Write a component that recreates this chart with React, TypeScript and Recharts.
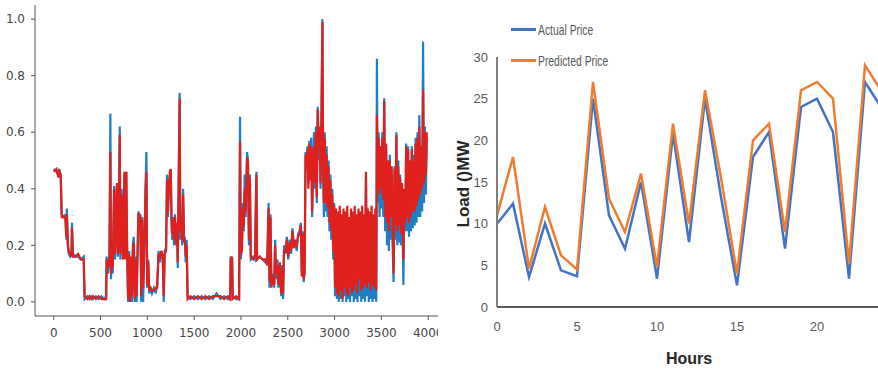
import React from "react";
import { LineChart, Line, XAxis, YAxis } from "recharts";

// left panel: normalised load over time steps (actual vs predicted)
const stepIndex = [
  0, 30, 50, 60, 75, 85, 110, 125, 135, 140, 150, 160, 175, 190, 195, 205, 230, 260, 290, 320, 330,
  360, 380, 400, 420, 450, 480, 510, 540, 560,
  565, 580, 595, 605, 612, 620, 630, 645, 655, 665, 675, 685, 695, 705, 712, 725, 740, 755, 765, 775,
  785, 795, 805, 815, 825, 835, 845, 855, 865, 875, 885, 895, 905, 915, 925, 935, 945, 955, 965, 980,
  990, 998, 1010, 1020, 1035, 1050, 1070, 1090, 1105,
  1120, 1135, 1150, 1165, 1175, 1185, 1200, 1210, 1220, 1230, 1240, 1250, 1258, 1265, 1275, 1285,
  1295, 1305, 1315, 1325, 1335, 1345, 1352, 1362, 1372, 1382, 1392, 1400, 1410, 1420, 1430,
  1460, 1500, 1540, 1580, 1620, 1660, 1700, 1740, 1780, 1820, 1860, 1885, 1890, 1905, 1912, 1950,
  1980, 1990, 1998, 2010, 2020, 2030, 2040, 2050, 2065, 2075, 2085, 2095, 2105, 2130, 2150, 2165,
  2172, 2200, 2230, 2260, 2280, 2295, 2305, 2315, 2325, 2340, 2355, 2365, 2375, 2390, 2400, 2415,
  2430, 2440, 2450, 2460, 2475, 2490, 2505, 2520, 2535, 2550, 2565, 2580, 2595, 2610, 2625, 2640,
  2650, 2660, 2670, 2680, 2690, 2700, 2710, 2720, 2730, 2740, 2750, 2760, 2770, 2780, 2790, 2800,
  2810, 2820, 2830, 2840, 2850, 2860, 2870, 2878, 2886, 2895, 2905, 2915, 2925, 2935, 2945, 2955,
  2965, 2975, 2985, 2995,
  3005, 3015, 3025, 3035, 3045, 3055, 3065, 3075, 3085, 3095, 3105, 3115, 3125, 3135, 3145, 3155,
  3165, 3175, 3185, 3195, 3205, 3215, 3225, 3235, 3245, 3255, 3265, 3275, 3285, 3295, 3305, 3315,
  3325, 3335, 3345, 3355, 3365, 3375, 3385, 3395, 3405, 3415, 3425, 3435, 3445,
  3452, 3460, 3470, 3480, 3490, 3500, 3510, 3520, 3530, 3540, 3550, 3560, 3570, 3580, 3590, 3600,
  3610, 3620, 3630, 3640, 3650, 3660, 3670, 3680, 3690, 3700, 3710, 3720, 3735, 3745, 3755, 3765,
  3775, 3785, 3795, 3805, 3815, 3825, 3835, 3845, 3855, 3865, 3875, 3885, 3895, 3905, 3915, 3925,
  3935, 3945, 3955, 3965, 3975, 3985,
];

const actualNorm = [
  0.47, 0.46, 0.45, 0.47, 0.44, 0.31, 0.3, 0.31, 0.22, 0.33, 0.2, 0.17, 0.16, 0.17, 0.28, 0.17, 0.16, 0.16, 0.15, 0.16, 0.01,
  0.02, 0.01, 0.02, 0.01, 0.02, 0.01, 0.02, 0.01, 0.02,
  0.16, 0.1, 0.15, 0.665, 0.08, 0.2, 0.1, 0.41, 0.15, 0.3, 0.41, 0.16, 0.3, 0.62, 0.15, 0.4, 0.16, 0.45, 0.16, 0.46,
  0.15, 0.0, 0.18, 0.0, 0.15, 0.0, 0.2, 0.23, 0.0, 0.16, 0.0, 0.17, 0.32, 0.3, 0.31, 0.0, 0.3, 0.0, 0.15, 0.4,
  0.53, 0.05, 0.15, 0.03, 0.05, 0.03, 0.05, 0.03, 0.06,
  0.18, 0.14, 0.18, 0.15, 0.0, 0.18, 0.19, 0.45, 0.3, 0.42, 0.44, 0.47, 0.28, 0.22, 0.3, 0.2,
  0.31, 0.22, 0.27, 0.12, 0.45, 0.74, 0.22, 0.3, 0.2, 0.4, 0.22, 0.23, 0.14, 0.22, 0.02,
  0.01, 0.02, 0.01, 0.02, 0.01, 0.02, 0.01, 0.03, 0.01, 0.02, 0.01, 0.01, 0.16, 0.15, 0.02, 0.01,
  0.01, 0.655, 0.15, 0.2, 0.35, 0.25, 0.45, 0.3, 0.53, 0.5, 0.2, 0.45, 0.15, 0.16, 0.15, 0.46,
  0.15, 0.16, 0.15, 0.14, 0.14, 0.35, 0.05, 0.31, 0.06, 0.1, 0.05, 0.22, 0.08, 0.15, 0.05, 0.12,
  0.02, 0.13, 0.01, 0.2, 0.17, 0.23, 0.15, 0.22, 0.17, 0.26, 0.2, 0.22, 0.18, 0.24, 0.25, 0.28,
  0.1, 0.25, 0.07, 0.12, 0.53, 0.48, 0.55, 0.42, 0.57, 0.45, 0.58, 0.3, 0.48, 0.6, 0.4, 0.62,
  0.35, 0.69, 0.5, 0.6, 0.4, 0.68, 1.0, 0.45, 0.3, 0.6, 0.32, 0.55, 0.3, 0.5, 0.25, 0.45,
  0.22, 0.4, 0.15, 0.35,
  0.02, 0.3, 0.01, 0.29, 0.0, 0.31, 0.01, 0.28, 0.0, 0.3, 0.02, 0.29, 0.0, 0.31, 0.01, 0.27,
  0.0, 0.3, 0.02, 0.29, 0.0, 0.31, 0.01, 0.28, 0.0, 0.3, 0.02, 0.29, 0.0, 0.31, 0.01, 0.28,
  0.0, 0.44, 0.02, 0.3, 0.0, 0.29, 0.01, 0.31, 0.0, 0.28, 0.01, 0.3, 0.0,
  0.86, 0.35, 0.6, 0.3, 0.55, 0.33, 0.6, 0.3, 0.72, 0.25, 0.55, 0.2, 0.5, 0.18, 0.52, 0.22,
  0.45, 0.2, 0.07, 0.48, 0.22, 0.6, 0.2, 0.5, 0.21, 0.45, 0.2, 0.4, 0.06, 0.38, 0.25, 0.56,
  0.25, 0.55, 0.23, 0.5, 0.25, 0.55, 0.26, 0.52, 0.27, 0.58, 0.28, 0.6, 0.3, 0.66, 0.3, 0.55,
  0.32, 0.92, 0.35, 0.62, 0.38, 0.58,
];

const predictedNorm = [
  0.46, 0.47, 0.44, 0.46, 0.45, 0.3, 0.3, 0.29, 0.23, 0.31, 0.21, 0.18, 0.17, 0.16, 0.26, 0.16, 0.16, 0.17, 0.15, 0.15, 0.02,
  0.01, 0.02, 0.01, 0.02, 0.01, 0.02, 0.01, 0.01, 0.01,
  0.15, 0.12, 0.16, 0.53, 0.1, 0.18, 0.12, 0.4, 0.17, 0.3, 0.42, 0.17, 0.28, 0.59, 0.17, 0.38, 0.15, 0.46, 0.15, 0.46,
  0.16, 0.01, 0.17, 0.0, 0.16, 0.02, 0.18, 0.21, 0.01, 0.15, 0.02, 0.16, 0.31, 0.31, 0.3, 0.02, 0.29, 0.05, 0.14, 0.38,
  0.46, 0.06, 0.14, 0.04, 0.05, 0.04, 0.04, 0.05, 0.05,
  0.17, 0.16, 0.18, 0.16, 0.02, 0.17, 0.18, 0.43, 0.32, 0.4, 0.46, 0.47, 0.3, 0.24, 0.29, 0.22,
  0.3, 0.2, 0.28, 0.14, 0.42, 0.72, 0.25, 0.28, 0.22, 0.38, 0.21, 0.22, 0.16, 0.2, 0.01,
  0.02, 0.01, 0.02, 0.01, 0.02, 0.01, 0.02, 0.02, 0.02, 0.01, 0.02, 0.01, 0.15, 0.16, 0.01, 0.02,
  0.01, 0.565, 0.17, 0.18, 0.33, 0.27, 0.4, 0.32, 0.51, 0.49, 0.22, 0.44, 0.16, 0.15, 0.16, 0.45,
  0.15, 0.16, 0.15, 0.15, 0.13, 0.33, 0.07, 0.3, 0.05, 0.09, 0.06, 0.2, 0.1, 0.13, 0.06, 0.14,
  0.03, 0.12, 0.03, 0.18, 0.18, 0.22, 0.16, 0.21, 0.18, 0.25, 0.19, 0.21, 0.2, 0.23, 0.24, 0.27,
  0.09, 0.24, 0.08, 0.1, 0.52, 0.47, 0.54, 0.4, 0.56, 0.43, 0.55, 0.32, 0.46, 0.55, 0.42, 0.6,
  0.37, 0.68, 0.55, 0.62, 0.42, 0.65, 0.99, 0.48, 0.35, 0.58, 0.35, 0.52, 0.33, 0.48, 0.28, 0.43,
  0.25, 0.38, 0.18, 0.34,
  0.05, 0.33, 0.03, 0.32, 0.02, 0.34, 0.04, 0.31, 0.01, 0.33, 0.05, 0.32, 0.03, 0.34, 0.02, 0.3,
  0.05, 0.33, 0.03, 0.32, 0.04, 0.34, 0.06, 0.31, 0.03, 0.33, 0.08, 0.32, 0.04, 0.34, 0.05, 0.31,
  0.06, 0.46, 0.05, 0.33, 0.07, 0.32, 0.04, 0.34, 0.06, 0.31, 0.05, 0.33, 0.04,
  0.66, 0.4, 0.58, 0.38, 0.55, 0.4, 0.58, 0.36, 0.71, 0.3, 0.56, 0.28, 0.5, 0.25, 0.5, 0.3,
  0.48, 0.26, 0.1, 0.47, 0.27, 0.59, 0.25, 0.48, 0.27, 0.44, 0.24, 0.42, 0.15, 0.4, 0.28, 0.55,
  0.3, 0.54, 0.28, 0.5, 0.3, 0.54, 0.32, 0.5, 0.32, 0.56, 0.34, 0.58, 0.36, 0.62, 0.38, 0.55,
  0.4, 0.75, 0.42, 0.6, 0.45, 0.6,
];

const normTicks = [0, 0.2, 0.4, 0.6, 0.8, 1.0];
const stepTicks = [0, 500, 1000, 1500, 2000, 2500, 3000, 3500, 4000];

// right panel: hourly price
const hours = [0, 1, 2, 3, 4, 5, 6, 7, 8, 9, 10, 11, 12, 13, 14, 15, 16, 17, 18, 19, 20, 21, 22, 23, 24];
const actualPrice = [10, 12.4, 3.6, 10, 4.4, 3.7, 25, 11, 7, 15, 3.4, 20.8, 7.8, 25, 13.2, 2.6, 18, 21, 7, 24, 25, 21, 3.4, 27, 24];
const predictedPrice = [11, 18, 4.6, 12, 6.2, 4.5, 27, 13, 9, 16, 4.8, 22, 10, 26, 15.5, 4, 20, 22, 9, 26, 27, 25, 5.2, 29, 26];
const hourTicks = [0, 5, 10, 15, 20];
const loadTicks = [0, 5, 10, 15, 20, 25, 30];

const priceSeries = [
  { key: "actual", name: "Actual Price", color: "#4472c4" },
  { key: "predicted", name: "Predicted Price", color: "#ed7d31" },
];

const leftData = stepIndex.map((t, i) => ({
  t,
  actual: actualNorm[i],
  predicted: predictedNorm[i],
}));

const rightData = hours.map((h, i) => ({
  h,
  actual: actualPrice[i],
  predicted: predictedPrice[i],
}));

const mplTick = { fill: "#444", fontSize: 12, fontFamily: "DejaVu Sans" };
const xlTick = { fill: "#595959", fontSize: 13, fontFamily: "Liberation Sans" };

export default function App() {
  return (
    <div style={{ position: "absolute", left: 0, top: 0, width: 878, height: 369, background: "#fff" }}>
      <div style={{ position: "absolute", left: 0, top: 0, width: 438, height: 369, overflow: "hidden" }}>
        <LineChart width={451} height={369} data={leftData} margin={{ top: 5, right: 5, left: 0, bottom: 23 }}>
          <XAxis
            dataKey="t"
            type="number"
            domain={[-200, 4190]}
            ticks={stepTicks}
            interval={0}
            tick={mplTick}
            tickSize={4}
            tickMargin={8}
            height={30}
            stroke="#555"
          />
          <XAxis xAxisId="top" dataKey="t" type="number" domain={[-200, 4190]} orientation="top" height={0} tick={false} tickLine={false} stroke="#555" />
          <YAxis
            type="number"
            domain={[-0.05, 1.05]}
            ticks={normTicks}
            interval={0}
            tick={mplTick}
            tickFormatter={(v: number) => v.toFixed(1)}
            tickSize={4}
            tickMargin={6}
            width={35}
            stroke="#555"
          />
          <Line dataKey="actual" stroke="#1f7fc4" strokeWidth={2.2} dot={false} isAnimationActive={false} />
          <Line dataKey="predicted" stroke="#e0201c" strokeWidth={2.2} dot={false} isAnimationActive={false} />
        </LineChart>
      </div>
      <div style={{ position: "absolute", left: 440, top: 0, width: 438, height: 369, overflow: "hidden" }}>
        <LineChart width={446} height={369} data={rightData} margin={{ top: 57, right: 5, left: 0, bottom: 12 }}>
          <XAxis
            dataKey="h"
            type="number"
            domain={[0, 24]}
            ticks={hourTicks}
            interval={0}
            tick={xlTick}
            tickLine={false}
            tickSize={0}
            tickMargin={15}
            height={50}
            stroke="#595959"
            strokeWidth={2}
            label={{
              content: ({ viewBox }: any) => (
                <text
                  x={viewBox.x + 192}
                  y={viewBox.y + 57}
                  textAnchor="middle"
                  fontFamily="Liberation Sans"
                  fontWeight="bold"
                  fontSize={16}
                  fill="#262626"
                >
                  Hours
                </text>
              ),
            }}
          />
          <YAxis
            type="number"
            domain={[0, 30]}
            ticks={loadTicks}
            interval={0}
            tick={xlTick}
            tickLine={false}
            tickSize={0}
            tickMargin={9}
            width={57}
            stroke="#7f7f7f"
            strokeWidth={2}
            label={{
              content: ({ viewBox }: any) => {
                const cx = viewBox.x + 23;
                const cy = viewBox.y + viewBox.height / 2 + 2;
                return (
                  <text
                    x={cx}
                    y={cy}
                    transform={`rotate(-90 ${cx} ${cy})`}
                    textAnchor="middle"
                    dominantBaseline="central"
                    fontFamily="Liberation Sans"
                    fontWeight="bold"
                    fontSize={17}
                    fill="#262626"
                  >
                    Load ()MW
                  </text>
                );
              },
            }}
          />
          {priceSeries.map((s) => (
            <Line
              key={s.key}
              name={s.name}
              dataKey={s.key}
              stroke={s.color}
              strokeWidth={2.5}
              dot={false}
              isAnimationActive={false}
            />
          ))}
        </LineChart>
        <div
          style={{
            position: "absolute",
            left: 71,
            top: 14,
            fontFamily: "Liberation Sans",
            fontSize: 14,
            color: "#595959",
          }}
        >
          {priceSeries.map((s) => (
            <div key={s.key} style={{ display: "flex", alignItems: "center", height: 31, whiteSpace: "nowrap" }}>
              <span style={{ display: "inline-block", width: 25, height: 3, background: s.color, marginRight: 2 }} />
              <span style={{ display: "inline-block", transform: "scaleX(0.74)", transformOrigin: "left center" }}>
                {s.name}
              </span>
            </div>
          ))}
        </div>
      </div>
    </div>
  );
}
